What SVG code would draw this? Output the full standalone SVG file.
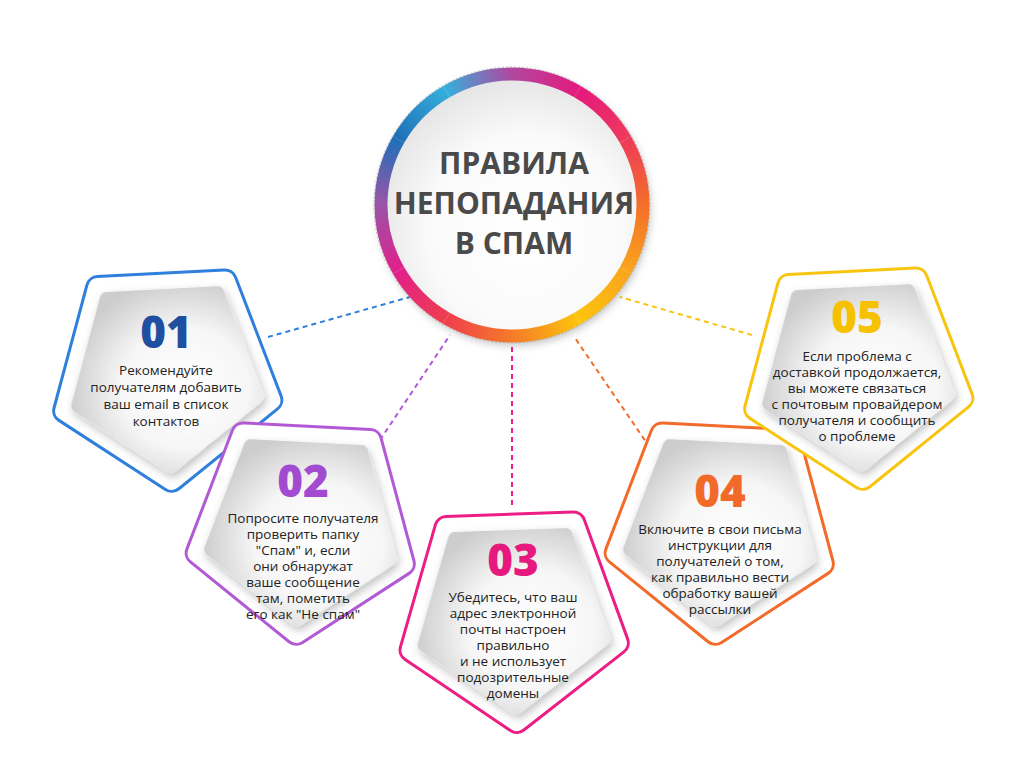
<svg xmlns="http://www.w3.org/2000/svg" xmlns:xlink="http://www.w3.org/1999/xlink" width="1024" height="783" viewBox="0 0 1024 783">
<style>
.ob{stroke-width:26;stroke-linejoin:round;fill:#fff}
.ow{stroke:#fff;stroke-width:20;stroke-linejoin:round;fill:#fff}
.gi{fill:url(#gg);stroke:url(#gg);stroke-width:14;stroke-linejoin:round;filter:url(#sh)}
.num{font-family:"Open Sans","DejaVu Sans",sans-serif;font-weight:800;font-size:44px;text-anchor:middle}
.tx{font-family:"Open Sans","DejaVu Sans",sans-serif;font-weight:500;font-size:13.5px;fill:#222;text-anchor:middle}
.ti{font-family:"Open Sans","DejaVu Sans",sans-serif;font-weight:700;font-size:30px;fill:#4a4a4a;text-anchor:middle}
.c{fill:none;stroke-width:2;stroke-dasharray:5 4}
.r{fill:none;stroke-width:13}
</style>
<defs>
<polygon id="pO" points="0,108 102.7,33.4 63.5,-87.4 -63.5,-87.4 -102.7,33.4"/>
<polygon id="pI" points="0,94 89.4,29 55.3,-76 -55.3,-76 -89.4,29"/>
<radialGradient id="gg" cx="0.6" cy="0.55" r="0.65"><stop offset="0" stop-color="#fff"/><stop offset="0.55" stop-color="#f6f6f6"/><stop offset="1" stop-color="#cdcdcd"/></radialGradient>
<radialGradient id="gc" cx="0.55" cy="0.6" r="0.6"><stop offset="0" stop-color="#fff"/><stop offset="0.6" stop-color="#fafafa"/><stop offset="1" stop-color="#e2e2e2"/></radialGradient>
<filter id="sh" x="-20%" y="-20%" width="140%" height="140%"><feDropShadow dx="2" dy="4" stdDeviation="4" flood-color="#000" flood-opacity="0.25"/></filter>
<linearGradient id="a0" gradientUnits="userSpaceOnUse" x1="512" y1="74" x2="577.5" y2="91.6"><stop offset="0" stop-color="#b0479f"/><stop offset="1" stop-color="#e5197e"/></linearGradient>
<linearGradient id="a1" gradientUnits="userSpaceOnUse" x1="577.5" y1="91.6" x2="625.4" y2="139.5"><stop offset="0" stop-color="#e5197e"/><stop offset="1" stop-color="#ee3a5a"/></linearGradient>
<linearGradient id="a2" gradientUnits="userSpaceOnUse" x1="625.4" y1="139.5" x2="643" y2="205"><stop offset="0" stop-color="#ee3a5a"/><stop offset="1" stop-color="#f36f2a"/></linearGradient>
<linearGradient id="a3" gradientUnits="userSpaceOnUse" x1="643" y1="205" x2="625.4" y2="270.5"><stop offset="0" stop-color="#f36f2a"/><stop offset="1" stop-color="#f9a51d"/></linearGradient>
<linearGradient id="a4" gradientUnits="userSpaceOnUse" x1="625.4" y1="270.5" x2="577.5" y2="318.4"><stop offset="0" stop-color="#f9a51d"/><stop offset="1" stop-color="#fcc40d"/></linearGradient>
<linearGradient id="a5" gradientUnits="userSpaceOnUse" x1="577.5" y1="318.4" x2="512" y2="336"><stop offset="0" stop-color="#fcc40d"/><stop offset="1" stop-color="#f47b27"/></linearGradient>
<linearGradient id="a6" gradientUnits="userSpaceOnUse" x1="512" y1="336" x2="446.5" y2="318.4"><stop offset="0" stop-color="#f47b27"/><stop offset="1" stop-color="#ef3e4d"/></linearGradient>
<linearGradient id="a7" gradientUnits="userSpaceOnUse" x1="446.5" y1="318.4" x2="398.6" y2="270.5"><stop offset="0" stop-color="#ef3e4d"/><stop offset="1" stop-color="#e1208a"/></linearGradient>
<linearGradient id="a8" gradientUnits="userSpaceOnUse" x1="398.6" y1="270.5" x2="381" y2="205"><stop offset="0" stop-color="#e1208a"/><stop offset="1" stop-color="#9a54a8"/></linearGradient>
<linearGradient id="a9" gradientUnits="userSpaceOnUse" x1="381" y1="205" x2="398.6" y2="139.5"><stop offset="0" stop-color="#9a54a8"/><stop offset="1" stop-color="#1f70b8"/></linearGradient>
<linearGradient id="a10" gradientUnits="userSpaceOnUse" x1="398.6" y1="139.5" x2="446.5" y2="91.6"><stop offset="0" stop-color="#1f70b8"/><stop offset="1" stop-color="#35afdc"/></linearGradient>
<linearGradient id="a11" gradientUnits="userSpaceOnUse" x1="446.5" y1="91.6" x2="512" y2="74"><stop offset="0" stop-color="#35afdc"/><stop offset="1" stop-color="#b0479f"/></linearGradient>
</defs>
<rect width="1024" height="783" fill="#fff"/>
<g id="connectors">
<line class="c" stroke="#2f7fdc" x1="268" y1="337" x2="410" y2="297"/>
<line class="c" stroke="#b25ad6" x1="370" y1="455" x2="450" y2="335"/>
<line class="c" stroke="#ec1e85" x1="512" y1="505" x2="512" y2="345"/>
<line class="c" stroke="#f26b2a" x1="655" y1="455" x2="575" y2="338"/>
<line class="c" stroke="#f8c40f" x1="752" y1="335" x2="620" y2="297"/>
</g>
<g id="center">
<circle cx="512" cy="205" r="136" fill="url(#gc)" filter="url(#sh)"/>
<path class="r" stroke="url(#a0)" d="M512,74 A131,131 0 0 1 577.5,91.6"/>
<path class="r" stroke="url(#a1)" d="M577.5,91.6 A131,131 0 0 1 625.4,139.5"/>
<path class="r" stroke="url(#a2)" d="M625.4,139.5 A131,131 0 0 1 643,205"/>
<path class="r" stroke="url(#a3)" d="M643,205 A131,131 0 0 1 625.4,270.5"/>
<path class="r" stroke="url(#a4)" d="M625.4,270.5 A131,131 0 0 1 577.5,318.4"/>
<path class="r" stroke="url(#a5)" d="M577.5,318.4 A131,131 0 0 1 512,336"/>
<path class="r" stroke="url(#a6)" d="M512,336 A131,131 0 0 1 446.5,318.4"/>
<path class="r" stroke="url(#a7)" d="M446.5,318.4 A131,131 0 0 1 398.6,270.5"/>
<path class="r" stroke="url(#a8)" d="M398.6,270.5 A131,131 0 0 1 381,205"/>
<path class="r" stroke="url(#a9)" d="M381,205 A131,131 0 0 1 398.6,139.5"/>
<path class="r" stroke="url(#a10)" d="M398.6,139.5 A131,131 0 0 1 446.5,91.6"/>
<path class="r" stroke="url(#a11)" d="M446.5,91.6 A131,131 0 0 1 512,74"/>
<circle cx="512" cy="205" r="138" fill="none" stroke="#999" stroke-width="1" stroke-dasharray="2 2" opacity="0.6"/>
<text class="ti" x="514" y="174">ПРАВИЛА</text>
<text class="ti" x="514" y="214">НЕПОПАДАНИЯ</text>
<text class="ti" x="514" y="254">В СПАМ</text>
</g>
<g id="n1">
<g transform="translate(166,372) rotate(-3)"><use href="#pO" class="ob" stroke="#2f7fdc"/><use href="#pO" class="ow"/><use href="#pI" class="gi"/></g>
<text class="num" x="166" y="348" fill="#1e4fa0">01</text>
<text class="tx" x="166" y="375">Рекомендуйте</text>
<text class="tx" x="166" y="392">получателям добавить</text>
<text class="tx" x="166" y="409">ваш email в список</text>
<text class="tx" x="166" y="426">контактов</text>
</g>
<g id="n2">
<g transform="translate(302,525) rotate(3)"><use href="#pO" class="ob" stroke="#b25ad6"/><use href="#pO" class="ow"/><use href="#pI" class="gi"/></g>
<text class="num" x="303" y="497" fill="#a24bd0">02</text>
<text class="tx" x="303" y="523">Попросите получателя</text>
<text class="tx" x="303" y="539">проверить папку</text>
<text class="tx" x="303" y="555">"Спам" и, если</text>
<text class="tx" x="303" y="571">они обнаружат</text>
<text class="tx" x="303" y="587">ваше сообщение</text>
<text class="tx" x="303" y="603">там, пометить</text>
<text class="tx" x="303" y="619">его как "Не спам"</text>
</g>
<g id="n3">
<g transform="translate(513,613) rotate(-2)"><use href="#pO" class="ob" stroke="#ec1e85"/><use href="#pO" class="ow"/><use href="#pI" class="gi"/></g>
<text class="num" x="513" y="576" fill="#e5197e">03</text>
<text class="tx" x="513" y="602">Убедитесь, что ваш</text>
<text class="tx" x="513" y="618">адрес электронной</text>
<text class="tx" x="513" y="634">почты настроен</text>
<text class="tx" x="513" y="650">правильно</text>
<text class="tx" x="513" y="666">и не использует</text>
<text class="tx" x="513" y="682">подозрительные</text>
<text class="tx" x="513" y="698">домены</text>
</g>
<g id="n4">
<g transform="translate(721,525) rotate(3)"><use href="#pO" class="ob" stroke="#f26b2a"/><use href="#pO" class="ow"/><use href="#pI" class="gi"/></g>
<text class="num" x="720" y="507" fill="#f26a2a">04</text>
<text class="tx" x="720" y="534">Включите в свои письма</text>
<text class="tx" x="720" y="550">инструкции для</text>
<text class="tx" x="720" y="566">получателей о том,</text>
<text class="tx" x="720" y="582">как правильно вести</text>
<text class="tx" x="720" y="598">обработку вашей</text>
<text class="tx" x="720" y="614">рассылки</text>
</g>
<g id="n5">
<g transform="translate(857,370) rotate(-3)"><use href="#pO" class="ob" stroke="#f8c40f"/><use href="#pO" class="ow"/><use href="#pI" class="gi"/></g>
<text class="num" x="857" y="333" fill="#f6c100">05</text>
<text class="tx" x="857" y="361">Если проблема с</text>
<text class="tx" x="857" y="377">доставкой продолжается,</text>
<text class="tx" x="857" y="393">вы можете связаться</text>
<text class="tx" x="857" y="409">с почтовым провайдером</text>
<text class="tx" x="857" y="425">получателя и сообщить</text>
<text class="tx" x="857" y="441">о проблеме</text>
</g>
</svg>
